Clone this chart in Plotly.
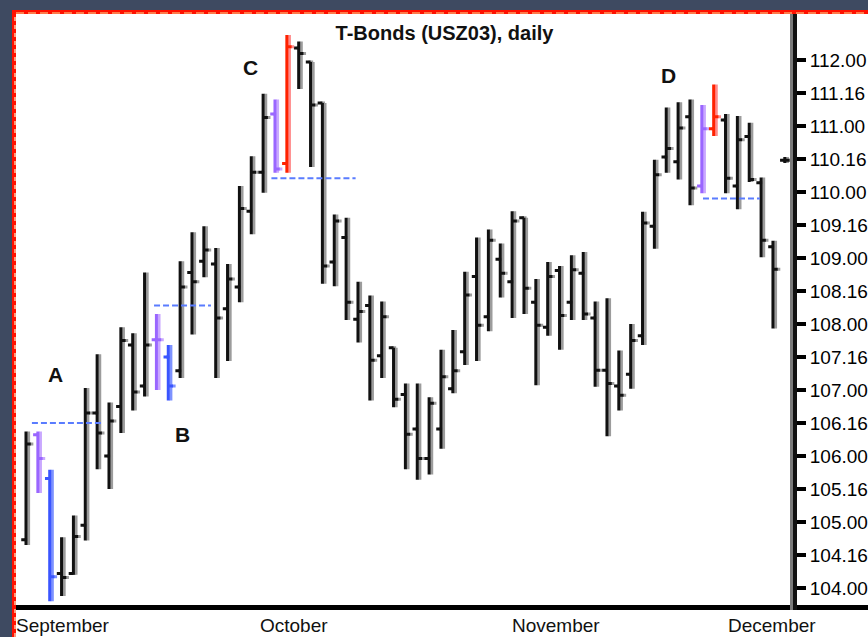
import plotly.graph_objects as go

# daily bars, index = trading day
opens = [104.73, 106.32, 105.66, 104.22, 104.22, 104.95, 106.65, 106.00, 106.75, 107.68,
         107.06, 107.76, 107.50, 107.29, 108.78, 108.95, 108.91, 108.23, 108.56, 109.71,
         110.30, 111.18, 110.43, 112.18, 111.97, 111.35, 108.94, 109.31, 108.07, 108.28,
         107.52, 107.64, 106.93, 106.41, 105.96, 106.41, 107.02, 107.58, 108.72, 108.11,
         108.98, 108.64, 109.61, 108.33, 107.95, 108.81, 108.33, 108.77, 108.09, 107.30,
         107.06, 107.24, 107.82, 109.48, 110.53, 110.46, 111.14, 110.09, 110.96, 111.09,
         110.09, 110.84, 110.14, 109.17, 110.48]
highs = [106.37, 106.37, 105.79, 104.77, 105.10, 107.03, 107.54, 106.81, 107.95, 107.86,
         108.78, 108.15, 107.68, 108.95, 109.39, 109.48, 109.15, 108.91, 110.09, 110.54,
         111.49, 111.40, 112.38, 112.28, 111.97, 111.35, 109.66, 109.61, 108.64, 108.43,
         108.34, 107.64, 107.10, 107.10, 106.89, 107.61, 107.91, 108.79, 109.31, 109.43,
         109.22, 109.71, 109.61, 108.68, 108.94, 108.88, 109.04, 109.09, 108.34, 108.39,
         107.60, 108.00, 109.70, 110.49, 111.28, 111.36, 111.40, 111.32, 111.63, 111.18,
         111.15, 111.05, 110.22, 109.26, 110.53]
lows = [104.65, 105.44, 103.80, 103.88, 104.20, 104.72, 105.80, 105.50, 106.35, 106.69,
        106.90, 107.00, 106.84, 107.18, 107.84, 108.71, 107.18, 107.44, 108.33, 109.36,
        109.99, 110.29, 110.29, 111.56, 110.38, 108.61, 108.57, 108.06, 107.72, 106.84,
        107.18, 106.74, 105.80, 105.64, 105.72, 106.11, 106.95, 107.38, 107.44, 107.89,
        108.40, 108.09, 108.15, 107.07, 107.82, 107.61, 108.06, 108.06, 107.05, 106.30,
        106.69, 107.02, 107.68, 109.14, 110.29, 110.19, 109.80, 109.98, 110.85, 109.98,
        109.74, 110.15, 109.01, 107.93, 110.44]
closes = [106.18, 105.96, 104.17, 104.16, 104.78, 106.65, 106.35, 106.53, 107.75, 106.97,
          107.68, 107.76, 107.06, 108.56, 108.64, 109.12, 108.09, 108.68, 109.75, 110.30,
          111.13, 110.35, 112.20, 112.10, 111.32, 108.88, 109.56, 108.33, 108.19, 107.45,
          108.11, 106.86, 106.33, 105.96, 106.80, 107.20, 107.29, 108.44, 107.98, 109.27,
          108.77, 109.56, 108.54, 107.98, 108.72, 108.13, 108.82, 108.15, 107.30, 107.10,
          106.92, 107.75, 109.53, 110.26, 110.66, 110.97, 110.06, 110.96, 111.14, 110.21,
          110.79, 110.19, 109.27, 108.83, 110.48]

purple_bars = [1, 11, 21, 57]
blue_bars = [2, 12]
red_bars = [22, 58]

# dashed levels: price, first bar, last bar
level_price = [106.50, 108.28, 110.21, 109.90]
level_from = [0.5, 10.8, 20.7, 57.1]
level_to = [6.4, 15.6, 27.8, 61.9]

point_names = ["A", "B", "C", "D"]
point_x = [2.45, 13.24, 18.9, 54.15]
point_y = [107.23, 106.32, 111.88, 111.77]

month_names = ["September", "October", "November", "December"]
month_label_at = [-0.76, 19.8, 41.1, 59.3]  # bar index where each label starts

tick_vals = [104, 104.5, 105, 105.5, 106, 106.5, 107, 107.5, 108,
             108.5, 109, 109.5, 110, 110.5, 111, 111.5, 112]
tick_text = ["104.00", "104.16", "105.00", "105.16", "106.00", "106.16", "107.00", "107.16", "108.00",
             "108.16", "109.00", "109.16", "110.00", "110.16", "111.00", "111.16", "112.00"]

idx = list(range(len(opens)))
special = set(purple_bars + blue_bars + red_bars)


def pick(keep):
    mask = lambda arr: [v if i in keep else None for i, v in enumerate(arr)]
    return mask(opens), mask(highs), mask(lows), mask(closes)


def ohlc(keep, color, shift=0.0):
    o, h, l, c = pick(keep)
    return go.Ohlc(x=[i + shift for i in idx], open=o, high=h, low=l, close=c, tickwidth=0.4,
                   increasing=dict(line=dict(color=color, width=3)),
                   decreasing=dict(line=dict(color=color, width=3)),
                   hoverinfo='skip', showlegend=False)


fig = go.Figure()
# soft right-hand edge first, then the bar itself
for keep, main_col, edge_col in [(set(idx) - special, '#111111', '#9c9c9c'),
                                 (set(purple_bars), '#9a66ff', '#c9a8ff'),
                                 (set(blue_bars), '#3a55ff', '#7d92ff'),
                                 (set(red_bars), '#ff2200', '#ff8c8c')]:
    fig.add_trace(ohlc(keep, edge_col, shift=0.22))
    fig.add_trace(ohlc(keep, main_col))

for p, a, b in zip(level_price, level_from, level_to):
    fig.add_trace(go.Scatter(x=[a, b], y=[p, p], mode='lines', showlegend=False, hoverinfo='skip',
                             line=dict(color='#5a7cff', width=2, dash='6px,3px')))

for n, x, y in zip(point_names, point_x, point_y):
    fig.add_annotation(x=x, y=y, text='<b>' + n + '</b>', showarrow=False,
                       font=dict(family='Liberation Sans', size=21, color='#111111'))

for m, b in zip(month_names, month_label_at):
    fig.add_annotation(x=b, y=(605 - 625) / 591, yref='paper', text=m, showarrow=False,
                       xanchor='left', yanchor='middle', xshift=-3,
                       font=dict(family='Liberation Sans', size=19, color='#111111'))


# pixel helpers for the frame decoration
def px(x):
    return (x - 16) / 779


def py(y):
    return (605 - y) / 591


def box(x0, y0, x1, y1, color):
    return dict(type='rect', xref='paper', yref='paper', x0=px(x0), x1=px(x1), y0=py(y1), y1=py(y0),
                fillcolor=color, line=dict(width=0), layer='above')


shapes = [
    box(0, 0, 12, 637, '#3e4a61'),
    box(0, 0, 868, 10, '#3e4a61'),
    box(12, 10, 16, 637, '#ff1100'),
    box(12, 10, 868, 14, '#ff1100'),
    dict(type='line', xref='paper', yref='paper', x0=px(15), x1=px(15), y0=py(637), y1=py(14),
         line=dict(color='#ff9a7a', width=2, dash='4px,4px')),
    dict(type='line', xref='paper', yref='paper', x0=px(16), x1=px(868), y0=py(13), y1=py(13),
         line=dict(color='#ff7a4a', width=2, dash='8px,4px')),
    box(16, 605, 868, 610, '#000000'),
    box(790, 14, 793, 610, '#7a7a7a'),
    box(793, 14, 797, 610, '#111111'),
]

fig.update_layout(
    width=868, height=637,
    margin=dict(l=16, r=73, t=14, b=32, autoexpand=False),
    paper_bgcolor='white', plot_bgcolor='white',
    shapes=shapes,
    title=dict(text='<b>T-Bonds (USZ03), daily</b>', x=444.5 / 868, xanchor='center',
               y=1 - 33 / 637, yanchor='middle',
               font=dict(family='Liberation Sans', size=20, color='#111111')),
    xaxis=dict(range=[-0.843, 64.86], showgrid=False, zeroline=False, showticklabels=False,
               rangeslider=dict(visible=False), fixedrange=True),
    yaxis=dict(range=[103.742, 112.697], side='right', showgrid=False, zeroline=False,
               tickvals=tick_vals, ticktext=tick_text, ticks='outside', ticklen=10, tickwidth=4,
               tickcolor='#000000', automargin=False,
               tickfont=dict(family='Liberation Sans', size=19, color='#000000')),
)

fig.write_html("out.html", config={'displayModeBar': False},
               post_script="document.body.style.margin='0';")
